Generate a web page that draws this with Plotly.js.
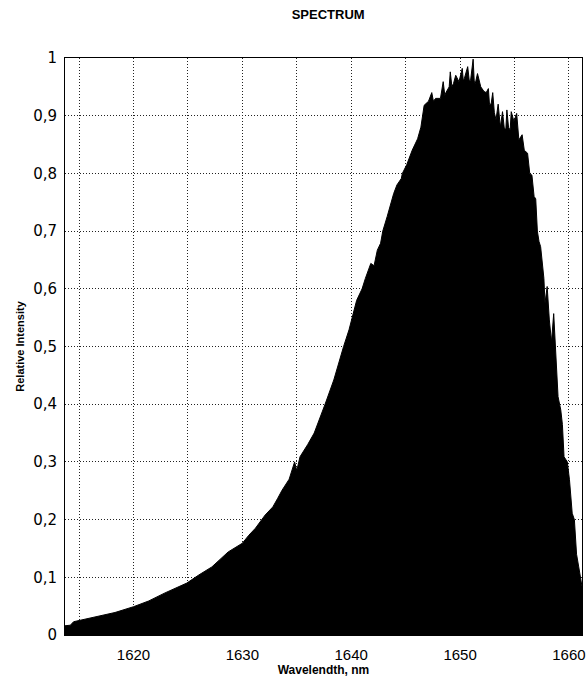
<!DOCTYPE html>
<html>
<head>
<meta charset="utf-8">
<script src="https://cdn.plot.ly/plotly-3.0.1.min.js"></script>
<style>html,body{margin:0;padding:0;background:#fff;}#chart{width:586px;height:680px;}</style>
</head>
<body>
<div id="chart"></div>
<script>
// Wavelength (nm) and relative intensity
const wavelength = [
  1613.71, 1614.2, 1614.5, 1615.0, 1616.5, 1618.3, 1620.0, 1621.4, 1622.9, 1624.9,
  1626.0, 1627.2, 1628.7, 1630.0, 1630.6, 1631.2, 1632.1, 1632.8, 1633.25, 1633.65,
  1634.3, 1634.8, 1635.0, 1635.3, 1636.0, 1636.6, 1637.6, 1638.4, 1639.3, 1639.8,
  1640.5, 1641.0, 1641.3, 1641.8, 1642.1, 1642.4, 1642.7, 1642.9, 1643.3, 1643.6,
  1643.9, 1644.2, 1644.6, 1644.7, 1645.1, 1645.6, 1646.1, 1646.4, 1646.7, 1647.1,
  1647.4, 1647.55, 1647.75, 1648.2, 1648.45, 1648.6, 1648.7, 1649.0, 1649.1, 1649.25,
  1649.4, 1649.6, 1649.9, 1650.2, 1650.3, 1650.4, 1650.7, 1650.85, 1650.97, 1651.2,
  1651.3, 1651.4, 1651.6, 1651.9, 1652.2, 1652.4, 1652.6, 1652.7, 1652.85, 1653.0,
  1653.15, 1653.3, 1653.5, 1653.7, 1653.9, 1654.05, 1654.2, 1654.3, 1654.45, 1654.6,
  1654.7, 1654.95, 1655.2, 1655.4, 1655.7, 1655.9, 1656.2, 1656.4, 1656.6, 1656.8,
  1656.95, 1657.1, 1657.25, 1657.4, 1657.55, 1657.7, 1657.8, 1658.0, 1658.2, 1658.4,
  1658.6, 1658.7, 1658.9, 1659.0, 1659.25, 1659.4, 1659.55, 1659.85, 1660.05, 1660.3,
  1660.5, 1660.7, 1660.9, 1661.1, 1661.2
];
const intensity = [
  0.016, 0.017, 0.023, 0.025, 0.032, 0.039, 0.049, 0.059, 0.073, 0.090,
  0.104, 0.118, 0.144, 0.159, 0.173, 0.185, 0.208, 0.222, 0.237, 0.251,
  0.270, 0.300, 0.285, 0.309, 0.330, 0.350, 0.400, 0.442, 0.500, 0.529,
  0.580, 0.600, 0.618, 0.644, 0.640, 0.667, 0.679, 0.700, 0.725, 0.745,
  0.765, 0.780, 0.791, 0.800, 0.815, 0.840, 0.860, 0.880, 0.918, 0.925,
  0.940, 0.925, 0.930, 0.930, 0.959, 0.935, 0.940, 0.950, 0.976, 0.950,
  0.956, 0.970, 0.959, 0.982, 0.960, 0.965, 0.985, 0.960, 0.962, 0.998,
  0.960, 0.956, 0.973, 0.950, 0.942, 0.940, 0.947, 0.920, 0.920, 0.940,
  0.905, 0.893, 0.920, 0.880, 0.907, 0.880, 0.875, 0.910, 0.880, 0.875,
  0.907, 0.890, 0.904, 0.858, 0.867, 0.840, 0.835, 0.800, 0.797, 0.760,
  0.756, 0.700, 0.682, 0.673, 0.650, 0.618, 0.575, 0.604, 0.546, 0.508,
  0.557, 0.523, 0.448, 0.413, 0.390, 0.365, 0.309, 0.300, 0.269, 0.211,
  0.200, 0.140, 0.118, 0.097, 0.084
];
const xTickVals = [1615, 1620, 1625, 1630, 1635, 1640, 1645, 1650, 1655, 1660];
const xTickText = ['', '1620', '', '1630', '', '1640', '', '1650', '', '1660'];
const yTickVals = [0, 0.1, 0.2, 0.3, 0.4, 0.5, 0.6, 0.7, 0.8, 0.9, 1];
const yTickText = ['0', '0,1', '0,2', '0,3', '0,4', '0,5', '0,6', '0,7', '0,8', '0,9', '1'];

const trace = {
  x: wavelength,
  y: intensity,
  type: 'scatter',
  mode: 'lines',
  fill: 'tozeroy',
  fillcolor: '#000000',
  line: {color: '#000000', width: 1},
  hoverinfo: 'x+y'
};

const gridDash = '1px,2px';
const layout = {
  width: 586,
  height: 680,
  margin: {l: 65, r: 4, t: 58, b: 45},
  paper_bgcolor: '#ffffff',
  plot_bgcolor: '#ffffff',
  showlegend: false,
  font: {family: 'Liberation Sans, Arial, sans-serif', color: '#000'},
  title: {
    text: '<b>SPECTRUM</b>',
    font: {family: 'Liberation Sans, Arial, sans-serif', size: 13, color: '#000'},
    x: 0.56, xanchor: 'center',
    y: 0.979, yanchor: 'middle'
  },
  xaxis: {
    range: [1613.71, 1661.2],
    tickmode: 'array',
    tickvals: xTickVals,
    ticktext: xTickText,
    ticks: '',
    ticklabelstandoff: 6,
    tickfont: {family: 'Liberation Sans, Arial, sans-serif', size: 15, color: '#000'},
    showgrid: true,
    gridcolor: '#222',
    gridwidth: 1,
    griddash: gridDash,
    zeroline: false,
    showline: true,
    linecolor: '#000',
    linewidth: 1,
    mirror: true,
    title: {
      text: '<b>Wavelendth, nm</b>',
      font: {family: 'Liberation Sans, Arial, sans-serif', size: 12, color: '#000'},
      standoff: 2
    }
  },
  yaxis: {
    range: [0, 1],
    tickmode: 'array',
    tickvals: yTickVals,
    ticktext: yTickText,
    ticks: '',
    ticklabelstandoff: 4,
    tickfont: {family: 'DejaVu Sans, sans-serif', size: 15, color: '#000'},
    showgrid: true,
    gridcolor: '#222',
    gridwidth: 1,
    griddash: gridDash,
    zeroline: false,
    showline: true,
    linecolor: '#000',
    linewidth: 1,
    mirror: true,
    title: {
      text: '<b>Relative Intensity</b>',
      font: {family: 'Liberation Sans, Arial, sans-serif', size: 11, color: '#000'},
      standoff: 6
    }
  }
};

Plotly.newPlot('chart', [trace], layout, {displayModeBar: false, staticPlot: true});
</script>
</body>
</html>
